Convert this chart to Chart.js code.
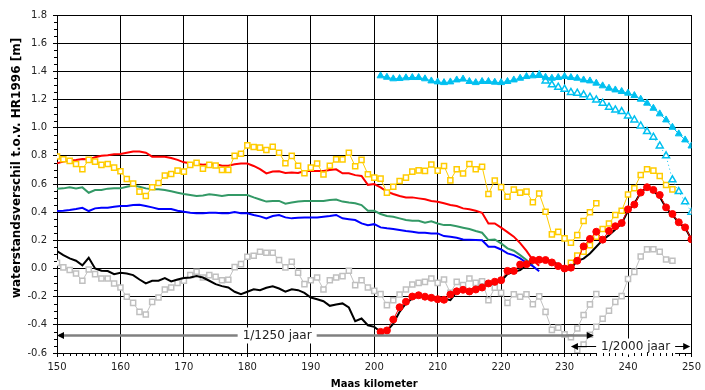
<!DOCTYPE html>
<html>
<head>
<meta charset="utf-8">
<script src="https://cdn.jsdelivr.net/npm/chart.js@4.4.1/dist/chart.umd.min.js"></script>
<style>
  html, body { margin: 0; padding: 0; background: #fff; }
</style>
</head>
<body>
<canvas id="chart" width="705" height="390"></canvas>
<script>
// --- DATA (Maas kilometer, waterstandsverschil in m) ---

const kmTicks = [150, 160, 170, 180, 190, 200, 210, 220, 230, 240, 250];

// lines without markers, km 150 onwards
const redLine = [
    0.747, 0.759, 0.766, 0.771, 0.778, 0.775, 0.790, 0.800, 0.804, 0.811,
    0.813, 0.822, 0.830, 0.830, 0.822, 0.794, 0.794, 0.794, 0.785, 0.771,
    0.754, 0.747, 0.742, 0.737, 0.740, 0.742, 0.730, 0.730, 0.740, 0.745,
    0.745, 0.728, 0.705, 0.675, 0.688, 0.690, 0.678, 0.682, 0.678, 0.692,
    0.692, 0.692, 0.692, 0.700, 0.704, 0.676, 0.676, 0.663, 0.657, 0.594,
    0.600, 0.576, 0.546, 0.529, 0.515, 0.505, 0.505, 0.498, 0.491, 0.480,
    0.474, 0.463, 0.451, 0.444, 0.427, 0.420, 0.410, 0.396, 0.320, 0.320,
    0.290, 0.258, 0.226, 0.180, 0.125, 0.060, 0.020
];
const greenLine = [
    0.567, 0.569, 0.576, 0.569, 0.576, 0.538, 0.557, 0.557, 0.567, 0.569,
    0.569, 0.581, 0.590, 0.581, 0.569, 0.562, 0.562, 0.557, 0.548, 0.538,
    0.529, 0.522, 0.515, 0.519, 0.527, 0.522, 0.515, 0.522, 0.522, 0.522,
    0.522, 0.505, 0.490, 0.475, 0.480, 0.480, 0.460, 0.468, 0.475, 0.480,
    0.480, 0.480, 0.480, 0.486, 0.490, 0.475, 0.468, 0.463, 0.450, 0.410,
    0.410, 0.387, 0.373, 0.368, 0.356, 0.344, 0.339, 0.339, 0.325, 0.335,
    0.320, 0.308, 0.308, 0.300, 0.290, 0.280, 0.266, 0.254, 0.202, 0.206,
    0.178, 0.143, 0.126, 0.095, 0.060, 0.025
];
const blueLine = [
    0.408, 0.410, 0.415, 0.422, 0.431, 0.408, 0.427, 0.431, 0.431, 0.439,
    0.444, 0.444, 0.451, 0.453, 0.444, 0.434, 0.422, 0.422, 0.422, 0.410,
    0.403, 0.396, 0.392, 0.392, 0.396, 0.396, 0.392, 0.392, 0.401, 0.392,
    0.392, 0.380, 0.370, 0.356, 0.373, 0.380, 0.363, 0.356, 0.360, 0.363,
    0.363, 0.363, 0.368, 0.373, 0.380, 0.356, 0.350, 0.344, 0.320, 0.308,
    0.315, 0.292, 0.285, 0.280, 0.273, 0.266, 0.261, 0.254, 0.254, 0.249,
    0.249, 0.230, 0.225, 0.218, 0.206, 0.204, 0.202, 0.200, 0.154, 0.154,
    0.135, 0.107, 0.095, 0.072, 0.041, 0.017, -0.019
];
const blackLine = [
    0.123, 0.095, 0.072, 0.055, 0.022, 0.076, 0.000, -0.016, -0.018, -0.040,
    -0.030, -0.035, -0.047, -0.078, -0.106, -0.087, -0.087, -0.068, -0.092, -0.078,
    -0.068, -0.064, -0.054, -0.064, -0.087, -0.111, -0.125, -0.135, -0.165, -0.182,
    -0.165, -0.147, -0.154, -0.137, -0.126, -0.142, -0.165, -0.147, -0.154, -0.173,
    -0.206, -0.218, -0.232, -0.265, -0.256, -0.248, -0.277, -0.374, -0.355, -0.403,
    -0.414, -0.450, -0.443, -0.391, -0.308, -0.248, -0.213, -0.197, -0.201, -0.206,
    -0.209, -0.213, -0.225, -0.166, -0.154, -0.150, -0.140, -0.125, -0.115, -0.105,
    -0.090, -0.040, -0.024, -0.011, 0.024, 0.048, 0.060, 0.062, 0.050, 0.030,
    0.005, 0.000, 0.055, 0.070, 0.107, 0.154, 0.202, 0.237, 0.277, 0.320,
    0.410, 0.460, 0.540, 0.577, 0.550, 0.510, 0.430, 0.380, 0.325, 0.290,
    0.207
];

// open squares
const yellow1250 = [
    0.795, 0.776, 0.764, 0.742, 0.705, 0.771, 0.759, 0.736, 0.742, 0.716,
    0.690, 0.636, 0.603, 0.546, 0.515, 0.577, 0.607, 0.660, 0.671, 0.695,
    0.688, 0.736, 0.750, 0.709, 0.736, 0.731, 0.700, 0.700, 0.800, 0.815,
    0.874, 0.863, 0.858, 0.841, 0.865, 0.822, 0.747, 0.800, 0.730, 0.676,
    0.716, 0.745, 0.667, 0.730, 0.775, 0.775, 0.822, 0.726, 0.771, 0.669,
    0.645, 0.638, 0.539, 0.581, 0.621, 0.645, 0.688, 0.697, 0.693, 0.738,
    0.695, 0.728, 0.626, 0.705, 0.674, 0.742, 0.705, 0.723, 0.529, 0.625,
    0.578, 0.510, 0.560, 0.539, 0.546, 0.470, 0.532, 0.403, 0.242, 0.260,
    0.214, 0.183, 0.237, 0.337, 0.399, 0.463
];
const yellow2000 = [
    0.040, 0.092, 0.120, 0.165, 0.225, 0.280, 0.320, 0.380, 0.410, 0.525,
    0.570, 0.664, 0.705, 0.695, 0.657, 0.593, 0.562
];
const grey1250 = [
    0.040, 0.008, -0.011, -0.035, -0.087, -0.007, -0.040, -0.071, -0.071, -0.106,
    -0.135, -0.201, -0.244, -0.308, -0.327, -0.237, -0.206, -0.149, -0.135, -0.102,
    -0.087, -0.047, -0.023, -0.064, -0.047, -0.059, -0.083, -0.080, 0.010, 0.031,
    0.083, 0.090, 0.119, 0.112, 0.112, 0.060, 0.008, 0.048, -0.030, -0.111,
    -0.083, -0.064, -0.149, -0.083, -0.064, -0.054, -0.016, -0.118, -0.083, -0.135,
    -0.159, -0.182, -0.260, -0.225, -0.185, -0.149, -0.114, -0.102, -0.095, -0.071,
    -0.102, -0.078, -0.173, -0.095, -0.118, -0.071, -0.102, -0.090, -0.225, -0.137,
    -0.173, -0.244, -0.183, -0.201, -0.183, -0.254, -0.198, -0.308, -0.436, -0.421,
    -0.468, -0.488, -0.426, -0.330, -0.255, -0.182
];
const grey2000 = [
    -0.580, -0.540, -0.470, -0.414, -0.357, -0.300, -0.237, -0.196, -0.075, -0.024,
    0.085, 0.136, 0.137, 0.119, 0.064, 0.055
];

// filled circles / triangles
const redDots = [
    -0.450, -0.440, -0.362, -0.275, -0.236, -0.199, -0.190, -0.200, -0.208, -0.218,
    -0.222, -0.185, -0.162, -0.151, -0.163, -0.149, -0.135, -0.106, -0.094, -0.083,
    -0.017, -0.017, 0.028, 0.031, 0.060, 0.062, 0.060, 0.043, 0.017, 0.000,
    0.006, 0.055, 0.157, 0.210, 0.261, 0.205, 0.267, 0.300, 0.323, 0.420,
    0.454, 0.539, 0.577, 0.558, 0.522, 0.434, 0.387, 0.328, 0.292, 0.207
];
const cyanFilled = [
    1.368, 1.358, 1.347, 1.349, 1.354, 1.356, 1.356, 1.347, 1.332, 1.325,
    1.320, 1.325, 1.339, 1.345, 1.328, 1.320, 1.328, 1.328, 1.323, 1.320,
    1.328, 1.339, 1.351, 1.363, 1.368, 1.373, 1.358, 1.351, 1.356, 1.363,
    1.356, 1.351, 1.339, 1.332, 1.316, 1.297, 1.280, 1.268, 1.257, 1.245,
    1.228, 1.202, 1.174, 1.138, 1.098, 1.055, 1.003, 0.956, 0.913, 0.870
];
const cyanOpen = [
    1.373, 1.332, 1.304, 1.287, 1.273, 1.250, 1.245, 1.233, 1.216, 1.197,
    1.174, 1.145, 1.126, 1.114, 1.083, 1.055, 1.012, 0.972, 0.932, 0.870,
    0.800, 0.630, 0.546, 0.474, 0.400
];

// first km of each series
const startKm = {
    redLine: 150, greenLine: 150, blueLine: 150, blackLine: 150,
    yellow1250: 150, yellow2000: 231, grey1250: 150, grey2000: 232,
    redDots: 201, cyanFilled: 201, cyanOpen: 226
};

// return period arrows
const periodLabels = ['1/1250 jaar', '1/2000 jaar'];
const periodFrom = [150, 231];
const periodTo = [234.6, 249.8];
const periodLevel = [-0.475, -0.552];
const periodTextAt = [184.7, 241.2];

const FONT = '"DejaVu Sans", Verdana, sans-serif';

function toPoints(values, km0) {
    return values.map((v, i) => ({ x: km0 + i, y: v }));
}

function lineSet(values, km0, color, width, order) {
    return {
        data: toPoints(values, km0), borderColor: color, borderWidth: width,
        pointRadius: 0, fill: false, tension: 0, order: order
    };
}

function markerSet(values, km0, color, style, filled, radius, order) {
    return {
        data: toPoints(values, km0), borderColor: color, borderWidth: 1,
        pointStyle: style, pointRadius: radius,
        pointBackgroundColor: filled ? color : '#ffffff',
        pointBorderColor: color, pointBorderWidth: filled ? 1 : 1.5,
        fill: false, tension: 0, order: order
    };
}

// --- PLUGINS ---

function arrowHead(ctx, x, y, dir) {
    ctx.beginPath();
    ctx.moveTo(x, y);
    ctx.lineTo(x - dir * 7, y - 3.5);
    ctx.lineTo(x - dir * 7, y + 3.5);
    ctx.closePath();
    ctx.fill();
}

const extrasPlugin = {
    id: 'extras',
    afterDatasetsDraw(chart) {
        const { ctx, scales: { x, y } } = chart;
        ctx.save();
        ctx.font = '12px ' + FONT;
        ctx.textBaseline = 'middle';
        ctx.textAlign = 'center';
        periodLabels.forEach((label, i) => {
            const x0 = x.getPixelForValue(periodFrom[i]);
            const x1 = x.getPixelForValue(periodTo[i]);
            const py = Math.round(y.getPixelForValue(periodLevel[i])) + 0.5;
            const tx = x.getPixelForValue(periodTextAt[i]);
            ctx.strokeStyle = i === 0 ? '#808080' : '#000000';
            ctx.lineWidth = i === 0 ? 2.5 : 1;
            ctx.beginPath();
            ctx.moveTo(x0 + 2, py);
            ctx.lineTo(x1 - 2, py);
            ctx.stroke();
            ctx.fillStyle = '#000000';
            arrowHead(ctx, x0, py, -1);
            arrowHead(ctx, x1, py, 1);
            const w = ctx.measureText(label).width;
            ctx.fillStyle = '#ffffff';
            ctx.fillRect(tx - w / 2 - 5, py - 8, w + 10, 16);
            ctx.fillStyle = '#222222';
            ctx.fillText(label, tx, py);
        });
        ctx.restore();
    },
    afterDraw(chart) {
        const { ctx, chartArea: a, scales: { x, y } } = chart;
        ctx.save();
        // minor ticks
        ctx.strokeStyle = '#000000';
        ctx.lineWidth = 1;
        ctx.beginPath();
        for (let k = x.min; k <= x.max; k++) {
            if (k % 10 === 0) continue;
            const px = Math.round(x.getPixelForValue(k)) + 0.5;
            ctx.moveTo(px, a.bottom);
            ctx.lineTo(px, a.bottom + 3);
        }
        for (let i = Math.round(y.min / 0.05); i <= Math.round(y.max / 0.05); i++) {
            if (i % 4 === 0) continue;
            const py = Math.round(y.getPixelForValue(i * 0.05)) + 0.5;
            ctx.moveTo(a.left - 3, py);
            ctx.lineTo(a.left, py);
        }
        ctx.stroke();
        // y axis title
        ctx.translate(17, 168);
        ctx.rotate(-Math.PI / 2);
        ctx.font = 'bold 12px ' + FONT;
        ctx.fillStyle = '#000000';
        ctx.textAlign = 'center';
        ctx.textBaseline = 'middle';
        ctx.fillText('waterstandsverschil t.o.v. HR1996 [m]', 0, 0);
        ctx.restore();
    }
};

// --- CHART ---

new Chart(document.getElementById('chart'), {
    type: 'line',
    data: {
        datasets: [
            markerSet(cyanFilled, startKm.cyanFilled, '#00C0F0', 'triangle', true, 4, 1),
            Object.assign(markerSet(cyanOpen, startKm.cyanOpen, '#00C0F0', 'triangle', false, 4, 2), { borderDash: [1, 3] }),
            markerSet(redDots, startKm.redDots, '#FF0000', 'circle', true, 3.5, 3),
            lineSet(blackLine, startKm.blackLine, '#000000', 2, 4),
            markerSet(yellow1250, startKm.yellow1250, '#FFCC00', 'rect', false, 3.6, 5),
            markerSet(yellow2000, startKm.yellow2000, '#FFCC00', 'rect', false, 3.6, 5),
            lineSet(redLine, startKm.redLine, '#FF0000', 2, 6),
            lineSet(blueLine, startKm.blueLine, '#0000FF', 2, 7),
            lineSet(greenLine, startKm.greenLine, '#339966', 2, 8),
            markerSet(grey1250, startKm.grey1250, '#C0C0C0', 'rect', false, 3.6, 9),
            markerSet(grey2000, startKm.grey2000, '#C0C0C0', 'rect', false, 3.6, 9)
        ]
    },
    options: {
        responsive: false,
        animation: false,
        layout: { padding: { top: 15, right: 9, left: 0, bottom: 0 } },
        plugins: { legend: { display: false }, tooltip: { enabled: false } },
        scales: {
            x: {
                type: 'linear', min: 150, max: 250,
                afterBuildTicks: s => { s.ticks = kmTicks.map(v => ({ value: v })); },
                afterFit: s => { s.height = 37; },
                ticks: { font: { family: FONT, size: 10 }, color: '#222222', padding: 4, maxRotation: 0 },
                grid: { color: '#000000', lineWidth: 1, tickLength: 4 },
                border: { color: '#000000' },
                title: {
                    display: true, text: 'Maas kilometer', color: '#000000',
                    font: { family: FONT, size: 10, weight: 'bold' }, padding: { top: 0, bottom: 0 }
                }
            },
            y: {
                min: -0.6, max: 1.8,
                afterFit: s => { s.width = 57; },
                ticks: {
                    stepSize: 0.2, font: { family: FONT, size: 10 }, color: '#222222', padding: 6,
                    callback: v => (Math.abs(v) < 1e-9 ? 0 : v).toFixed(1)
                },
                grid: { color: '#000000', lineWidth: 1, tickLength: 4 },
                border: { color: '#000000' }
            }
        }
    },
    plugins: [extrasPlugin]
});
</script>
</body>
</html>
